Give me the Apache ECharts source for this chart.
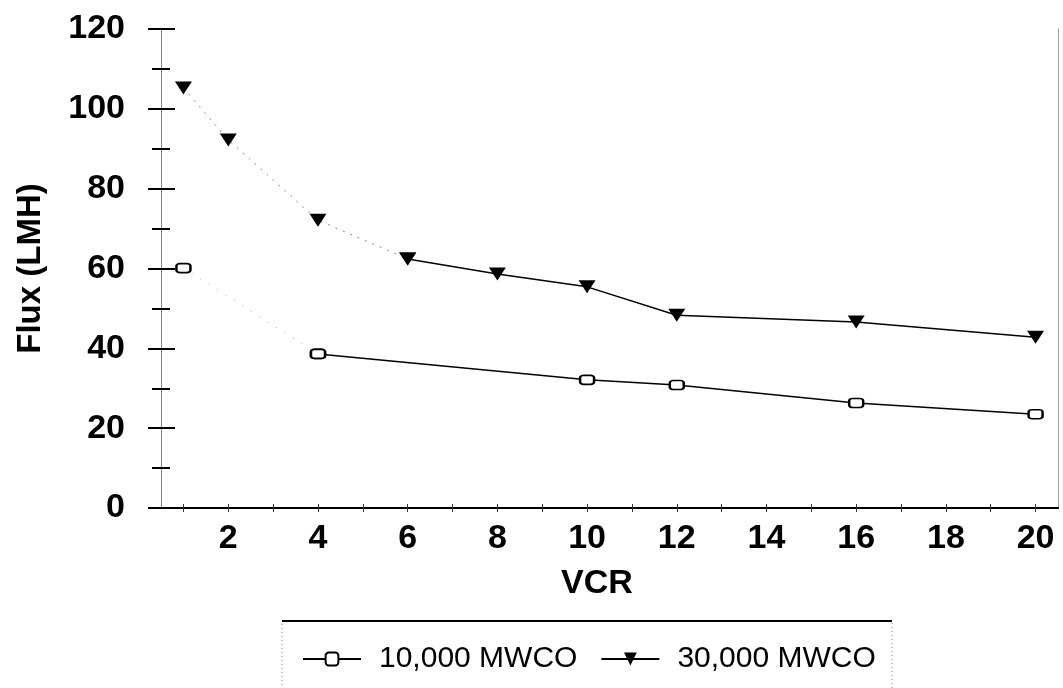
<!DOCTYPE html>
<html>
<head>
<meta charset="utf-8">
<script src="https://cdn.jsdelivr.net/npm/echarts@6/dist/echarts.min.js"></script>
<style>
  html, body { margin: 0; padding: 0; background: #fff; }
  #chart { width: 1063px; height: 688px; }
</style>
</head>
<body>
<div id="chart"></div>
<script>
// Permeate flux versus volume concentration ratio for two membrane cut-offs
const seriesNames = ['10,000 MWCO', '30,000 MWCO'];
const vcr10k = [1, 4, 10, 12, 16, 20];
const flux10k = [60.1, 38.6, 32.1, 30.8, 26.3, 23.5];
const vcr30k = [1, 2, 4, 6, 8, 10, 12, 16, 20];
const flux30k = [105.2, 92.2, 72.1, 62.4, 58.6, 55.4, 48.3, 46.6, 42.8];
const xLabelValues = [2, 4, 6, 8, 10, 12, 14, 16, 18, 20];
const xTickValues = [1, 2, 3, 4, 5, 6, 7, 8, 9, 10, 11, 12, 13, 14, 15, 16, 17, 18, 19, 20];
// the early part of each run is drawn with a faint dotted trace
const faintUntil10k = 4;
const faintUntil30k = 6;

const pairs = (xs, ys) => xs.map((x, i) => [x, ys[i]]);
const FONT = "'Liberation Sans', Arial, sans-serif";

const pts10k = pairs(vcr10k, flux10k);
const pts30k = pairs(vcr30k, flux30k);

const chart = echarts.init(document.getElementById('chart'), null, { renderer: 'canvas' });

const yBase = { type: 'value', min: 0, max: 120, interval: 20, gridIndex: 0 };

const option = {
  animation: false,
  backgroundColor: '#ffffff',
  grid: { left: 161, right: 5, top: 29, bottom: 180, containLabel: false },
  xAxis: [
    {
      type: 'value', position: 'bottom', min: 0.5, max: 20.5,
      name: 'VCR', nameLocation: 'middle', nameGap: 59,
      nameTextStyle: { fontFamily: FONT, fontWeight: 'bold', fontSize: 34, color: '#000', padding: [0, 25, 0, 0] },
      axisLine: { show: true, lineStyle: { color: '#000', width: 2 } },
      axisTick: { show: true, customValues: xTickValues, length: 4, lineStyle: { color: '#333', width: 1 } },
      axisLabel: { customValues: xLabelValues, margin: 14, fontFamily: FONT, fontWeight: 'bold', fontSize: 34, color: '#000' },
      splitLine: { show: false }
    },
    {
      // inner half of the crossing ticks on the VCR axis
      type: 'value', position: 'bottom', min: 0.5, max: 20.5,
      axisLine: { show: false },
      axisTick: { show: true, inside: true, customValues: xTickValues, length: 4, lineStyle: { color: '#333', width: 1 } },
      axisLabel: { show: false },
      splitLine: { show: false }
    },
    {
      // frame line along the top
      type: 'value', position: 'top', min: 0.5, max: 20.5,
      axisLine: { show: true, lineStyle: { color: '#000', width: 2 } },
      axisTick: { show: false }, axisLabel: { show: false }, splitLine: { show: false }
    }
  ],
  yAxis: [
    Object.assign({}, yBase, {
      position: 'left',
      name: 'Flux (LMH)', nameLocation: 'middle', nameGap: 114,
      nameTextStyle: { fontFamily: FONT, fontWeight: 'bold', fontSize: 33, color: '#000' },
      axisLine: { show: true, lineStyle: { color: '#666', width: 1, type: 'dotted' } },
      axisTick: { show: true, length: 13, lineStyle: { color: '#000', width: 2 } },
      minorTick: { show: true, splitNumber: 2, length: 9, lineStyle: { color: '#000', width: 2 } },
      axisLabel: { margin: 36, fontFamily: FONT, fontWeight: 'bold', fontSize: 34, color: '#000' },
      splitLine: { show: false }
    }),
    Object.assign({}, yBase, {
      // inner half of the crossing ticks on the flux axis
      position: 'left',
      axisLine: { show: false },
      axisTick: { show: true, inside: true, length: 14, lineStyle: { color: '#000', width: 2 } },
      minorTick: { show: true, splitNumber: 2, length: 9, lineStyle: { color: '#000', width: 2 } },
      axisLabel: { show: false },
      splitLine: { show: false }
    }),
    Object.assign({}, yBase, {
      // dotted frame on the right
      position: 'right',
      axisLine: { show: true, lineStyle: { color: '#888', width: 1, type: 'dotted' } },
      axisTick: { show: false }, axisLabel: { show: false }, splitLine: { show: false }
    })
  ],
  legend: {
    data: seriesNames,
    left: 297, top: 639,
    itemWidth: 58, itemHeight: 16, itemGap: 23,
    textStyle: { fontFamily: FONT, fontSize: 30, color: '#000', padding: [0, 0, 0, 13] },
    inactiveColor: '#000'
  },
  graphic: [
    {
      type: 'rect', silent: true,
      shape: { x: 282, y: 621, width: 610, height: 80 },
      style: { fill: 'none', stroke: '#888', lineWidth: 1, lineDash: [1, 3] }
    },
    {
      type: 'line', silent: true,
      shape: { x1: 282, y1: 621, x2: 892, y2: 621 },
      style: { stroke: '#000', lineWidth: 2 }
    }
  ],
  series: [
    {
      name: seriesNames[0], type: 'line',
      data: pts10k.filter(p => p[0] >= faintUntil10k),
      symbol: 'roundRect', symbolSize: [14, 9],
      itemStyle: { color: '#fff', borderColor: '#000', borderWidth: 2 },
      lineStyle: { color: '#000', width: 1.5 },
      z: 3
    },
    {
      name: seriesNames[1], type: 'line',
      data: pts30k.filter(p => p[0] >= faintUntil30k),
      symbol: 'triangle', symbolRotate: 180, symbolSize: [17, 13],
      itemStyle: { color: '#000', borderColor: '#000', borderWidth: 0 },
      lineStyle: { color: '#000', width: 1.5 },
      z: 3
    },
    {
      name: seriesNames[0] + ' start', type: 'line',
      data: pts10k.filter(p => p[0] <= faintUntil10k),
      symbol: 'roundRect', symbolSize: [14, 9],
      itemStyle: { color: '#fff', borderColor: '#000', borderWidth: 2 },
      lineStyle: { color: '#aaa', width: 1, type: [1, 9] },
      z: 2
    },
    {
      name: seriesNames[1] + ' start', type: 'line',
      data: pts30k.filter(p => p[0] <= faintUntil30k),
      symbol: 'triangle', symbolRotate: 180, symbolSize: [17, 13],
      itemStyle: { color: '#000', borderColor: '#000', borderWidth: 0 },
      lineStyle: { color: '#888', width: 1, type: [2, 6] },
      z: 2
    }
  ]
};

chart.setOption(option);
</script>
</body>
</html>
